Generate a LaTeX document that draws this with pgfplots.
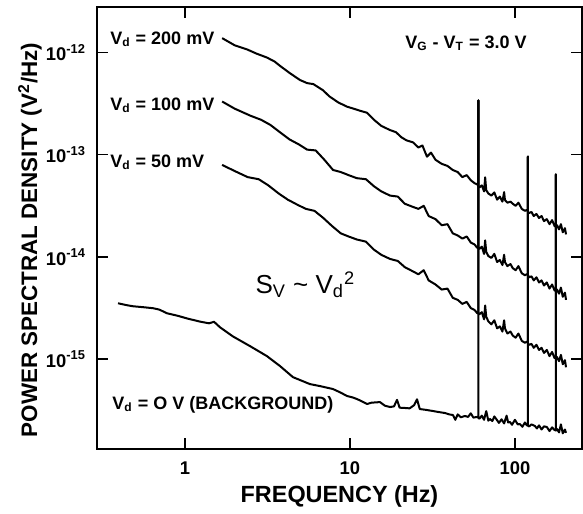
\documentclass[border=0pt]{standalone}
\usepackage{pgfplots}
\pgfplotsset{compat=1.18}
\usepackage{fontspec}
\setmainfont{Liberation Sans}
\begin{document}
\begin{tikzpicture}
\begin{axis}[
  scale only axis, width=242.5pt, height=221pt,
  xmode=log, ymode=log,
  xmin=0.293, xmax=255, ymin=1.32e-16, ymax=2.78e-12,
  xtick={1,10,100}, xticklabels={1,10,100},
  ytick={1e-15,1e-14,1e-13,1e-12},
  yticklabels={10\textsuperscript{-15},10\textsuperscript{-14},10\textsuperscript{-13},10\textsuperscript{-12}},
  minor tick style={draw=none},
  tick align=inside, major tick length=5.5pt,
  tick style={line width=0.8pt, black},
  axis line style={line width=1pt},
  ticklabel style={font=\fontsize{9.2}{11}\selectfont\bfseries},
  xticklabel style={anchor=base, yshift=-12.5pt},
  yticklabel style={anchor=east, xshift=-2pt},
  xlabel={FREQUENCY (Hz)},
  ylabel={POWER SPECTRAL DENSITY (V\textsuperscript{2}/Hz)},
  xlabel style={font=\fontsize{11.7}{13}\selectfont\bfseries, at={(axis description cs:0.5,-0.1199)}, anchor=base},
  ylabel style={font=\fontsize{11.2}{13}\selectfont\bfseries, at={(axis description cs:-0.1237,0.473)}, anchor=base},
  cycle list={{black, line width=1pt, line join=round, no markers}},
]
% Vd = 200 mV
\addplot[black, line width=1pt, line join=round, no markers] coordinates {
(1.68,1.38e-12)(2.0,1.175e-12)(2.38,1.07e-12)(2.7,9.77e-13)(3.14,8.91e-13)(3.5,8.13e-13)
(3.76,7.41e-13)(4.3,6.31e-13)(4.98,5.37e-13)(5.5,5.01e-13)(6.0,4.90e-13)(6.86,4.27e-13)
(7.5,3.72e-13)(8.5,3.24e-13)(9.59,2.95e-13)(10.5,2.82e-13)(11.5,2.69e-13)(12.7,2.57e-13)
(14,2.19e-13)(15.5,1.91e-13)(17.5,1.74e-13)(19,1.66e-13)(20.5,1.48e-13)(22,1.38e-13)
(24.1,1.32e-13)(26,1.175e-13)(27.5,1.23e-13)(29.3,9.55e-14)(31,1.047e-13)(33,8.91e-14)
(36,8.13e-14)(39,7.76e-14)(42,7.08e-14)(45,6.76e-14)(48,6.03e-14)(51,6.31e-14)
(54,5.62e-14)(57,5.25e-14)(59,5.13e-14)(60,5.0e-14)(60,3.39e-13)(60,4.9e-14)(61,4.79e-14)(63,5.01e-14)
(65,4.37e-14)(66,6.0e-14)(67,4.5e-14)(69,4.17e-14)(72,3.98e-14)(75,4.27e-14)(78,3.63e-14)
(81,3.89e-14)(84,3.47e-14)(86,4.3e-14)(87,3.6e-14)(90,3.39e-14)(94,3.47e-14)(97,3.31e-14)
(101,3.16e-14)(105,3.39e-14)(110,2.95e-14)(115,2.82e-14)(118,2.88e-14)(120,2.8e-14)(120,9.55e-14)(120,2.75e-14)
(122,2.69e-14)(126,2.75e-14)(130,2.51e-14)(135,2.63e-14)(140,2.40e-14)(145,2.51e-14)
(150,2.24e-14)(156,2.34e-14)(162,2.09e-14)(168,2.29e-14)(174,2.00e-14)(177,1.98e-14)(177,6.4e-14)(177,1.96e-14)
(180,2.04e-14)(185,1.86e-14)(190,2.09e-14)(195,1.74e-14)(201,1.91e-14)(204,1.66e-14)
};
% Vd = 100 mV
\addplot[black, line width=1pt, line join=round, no markers] coordinates {
(1.68,3.31e-13)(2.0,2.82e-13)(2.5,2.40e-13)(2.9,2.19e-13)(3.3,1.95e-13)(3.76,1.66e-13)
(4.3,1.41e-13)(4.9,1.26e-13)(5.5,1.12e-13)(6.2,1.10e-13)(7.0,8.91e-14)(7.9,7.08e-14)
(8.8,6.76e-14)(9.8,6.31e-14)(11,5.89e-14)(12.5,5.75e-14)(14,4.90e-14)(15.5,4.37e-14)
(17.5,3.98e-14)(19.5,3.89e-14)(21.5,3.31e-14)(24,3.09e-14)(26,2.95e-14)(28,3.16e-14)
(30,2.51e-14)(33,2.34e-14)(36,2.04e-14)(39,2.09e-14)(42,1.70e-14)(45,1.62e-14)
(48,1.51e-14)(51,1.585e-14)(54,1.38e-14)(57,1.32e-14)(59,1.23e-14)(60,1.22e-14)(60,3.39e-13)(60,1.21e-14)
(61,1.20e-14)(63,1.26e-14)(65,1.07e-14)(66,1.45e-14)(67,1.12e-14)(69,1.02e-14)(72,9.77e-15)
(75,1.07e-14)(78,8.91e-15)(81,9.33e-15)(84,8.32e-15)(86,1.05e-14)(87,8.9e-15)(90,8.13e-15)
(94,8.51e-15)(97,7.76e-15)(101,7.41e-15)(105,8.13e-15)(110,6.92e-15)(115,6.61e-15)
(118,6.76e-15)(120,6.7e-15)(120,9.55e-14)(120,6.6e-15)(122,6.31e-15)(126,6.46e-15)(130,5.89e-15)(135,6.31e-15)
(140,5.62e-15)(145,5.89e-15)(150,5.25e-15)(156,5.62e-15)(162,4.90e-15)(168,5.37e-15)
(174,4.68e-15)(177,4.7e-15)(177,6.4e-14)(177,4.7e-15)(180,4.79e-15)(185,4.37e-15)(190,5.01e-15)(195,4.07e-15)
(201,4.47e-15)(204,3.80e-15)
};
% Vd = 50 mV
\addplot[black, line width=1pt, line join=round, no markers] coordinates {
(1.68,7.94e-14)(2.0,6.92e-14)(2.4,6.03e-14)(2.8,5.75e-14)(3.2,5.01e-14)(3.7,4.17e-14)
(4.2,3.63e-14)(4.8,3.24e-14)(5.4,2.95e-14)(6.1,2.82e-14)(6.9,2.40e-14)(7.8,2.00e-14)
(8.8,1.70e-14)(9.8,1.585e-14)(11,1.48e-14)(12.5,1.41e-14)(14,1.175e-14)(15.5,1.047e-14)
(17.5,9.55e-15)(19.5,9.12e-15)(21.5,7.94e-15)(24,7.24e-15)(26,6.76e-15)(28,7.41e-15)
(30,5.89e-15)(33,5.37e-15)(36,4.79e-15)(39,4.90e-15)(42,3.98e-15)(45,3.80e-15)
(48,3.47e-15)(51,3.63e-15)(54,3.16e-15)(57,3.02e-15)(59,2.82e-15)(60,2.80e-15)(60,3.39e-13)(60,2.78e-15)
(61,2.75e-15)(63,2.88e-15)(65,2.45e-15)(66,3.35e-15)(67,2.6e-15)(69,2.34e-15)(72,2.19e-15)
(75,2.40e-15)(78,2.00e-15)(81,2.09e-15)(84,1.86e-15)(86,2.4e-15)(87,2.0e-15)(90,1.78e-15)
(94,1.86e-15)(97,1.70e-15)(101,1.62e-15)(105,1.78e-15)(110,1.51e-15)(115,1.445e-15)
(118,1.48e-15)(120,1.46e-15)(120,9.55e-14)(120,1.43e-15)(122,1.38e-15)(126,1.41e-15)(130,1.29e-15)(135,1.38e-15)
(140,1.23e-15)(145,1.29e-15)(150,1.15e-15)(156,1.23e-15)(162,1.07e-15)(168,1.175e-15)
(174,1.02e-15)(177,1.03e-15)(177,6.4e-14)(177,1.03e-15)(180,1.047e-15)(185,9.55e-16)(190,1.10e-15)(195,8.91e-16)
(201,9.77e-16)(204,8.32e-16)
};
% Vd = 0 V (background)
\addplot[black, line width=1pt, line join=round, no markers] coordinates {
(0.393,3.52e-15)(0.44,3.38e-15)(0.484,3.29e-15)(0.56,3.22e-15)(0.64,3.15e-15)(0.70,3.05e-15)
(0.778,2.81e-15)(0.9,2.66e-15)(1.03,2.50e-15)(1.23,2.33e-15)(1.40,2.24e-15)(1.50,2.32e-15)
(1.63,2.05e-15)(1.95,1.67e-15)(2.48,1.34e-15)(3.14,1.07e-15)(3.77,8.55e-16)(4.51,6.67e-16)
(5.72,5.70e-16)(6.58,5.45e-16)(7.89,5.10e-16)(8.8,4.70e-16)(9.59,4.36e-16)
(10.5,4.20e-16)(11.3,4.00e-16)(12.7,3.64e-16)(13.5,3.75e-16)(15.2,3.80e-16)
(16.3,3.50e-16)(17.5,3.40e-16)(18.5,3.45e-16)(19.3,4.0e-16)(20,3.35e-16)(21.5,3.33e-16)
(23,3.30e-16)(24.5,3.55e-16)(25.5,4.05e-16)(26.5,3.25e-16)(28.5,3.20e-16)(31.8,3.11e-16)
(34,3.05e-16)(37.7,2.97e-16)(40,2.88e-16)(42.1,2.84e-16)(43.5,2.55e-16)(45,2.88e-16)
(47,2.70e-16)(49.8,2.78e-16)(52,2.72e-16)(54,2.95e-16)(56,2.68e-16)(58.9,2.72e-16)
(60,2.7e-16)(60,3.39e-13)(60,2.65e-16)(61,2.62e-16)(63,2.80e-16)(65,2.55e-16)(67,3.10e-16)(69,2.50e-16)
(70.5,2.60e-16)(73,2.48e-16)(75,2.75e-16)(77.8,2.54e-16)(80,2.38e-16)(83,2.58e-16)
(86,2.35e-16)(89,2.80e-16)(91,2.40e-16)(93.3,2.43e-16)(96,2.28e-16)(100,2.55e-16)
(104,2.30e-16)(107,2.32e-16)(111,2.18e-16)(115,2.40e-16)(118,2.25e-16)(120,2.25e-16)(120,9.55e-14)(120,2.22e-16)
(122,2.20e-16)(126,2.30e-16)(132,2.22e-16)(136,2.10e-16)(140,2.25e-16)(145,2.05e-16)
(150,2.20e-16)(156,2.17e-16)(162,1.98e-16)(168,2.15e-16)(174,2.02e-16)(177,2.03e-16)(177,6.4e-14)(177,2.0e-16)
(180,2.07e-16)(185,1.92e-16)(190,2.30e-16)(195,1.88e-16)(201,2.05e-16)(204,1.90e-16)
};
\begin{scope}[every node/.style={inner sep=0pt, font=\fontsize{9}{10}\selectfont\bfseries}]
\node[anchor=base west] at (axis description cs:0.0268,0.916) {V\textsubscript{d} = 200 mV};
\node[anchor=base west] at (axis description cs:0.0268,0.767) {V\textsubscript{d} = 100 mV};
\node[anchor=base west] at (axis description cs:0.0268,0.638) {V\textsubscript{d} = 50 mV};
\node[anchor=base west] at (axis description cs:0.635,0.907) {V\textsubscript{G} - V\textsubscript{T} = 3.0 V};
\node[anchor=base west] at (axis description cs:0.031,0.0905) {V\textsubscript{d} = O V (BACKGROUND)};
\end{scope}
\node[anchor=base west, inner sep=0pt, font=\fontsize{13}{15}\selectfont] at (axis description cs:0.326,0.353) {S\textsubscript{V} \textasciitilde{} V\textsubscript{d}\textsuperscript{2}};
\end{axis}
\path ([yshift=3.5pt]current axis.north);
\path ([xshift=-48.5pt,yshift=-29.5pt]current axis.south west);
\end{tikzpicture}
\end{document}
